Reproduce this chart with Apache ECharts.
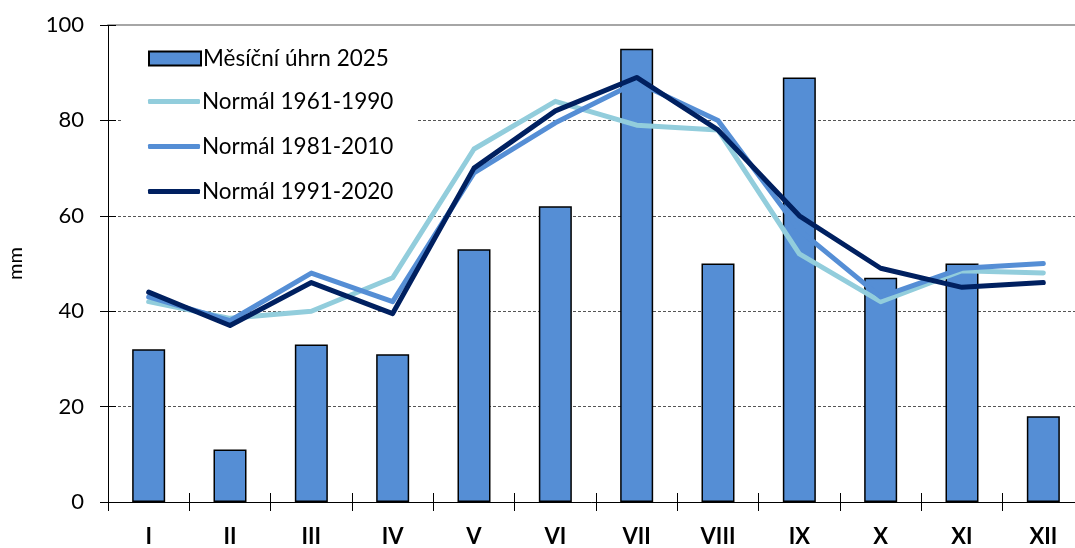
<!DOCTYPE html>
<html>
<head>
<meta charset="utf-8">
<script src="https://cdn.jsdelivr.net/npm/echarts@6/dist/echarts.min.js"></script>
<style>html,body{margin:0;padding:0;background:#fff}#c{width:1075px;height:548px}</style>
</head>
<body>
<div id="c"></div>
<script>
const categories = ['I','II','III','IV','V','VI','VII','VIII','IX','X','XI','XII'];
const monthly2025 = [32, 11, 33, 31, 53, 62, 95, 50, 89, 47, 50, 18];
const normal6190 = [42, 38.5, 40, 47, 74, 84, 79, 78, 52, 42, 48.5, 48];
const normal8110 = [43, 38, 48, 42, 69, 79.5, 88, 80, 57, 43, 49, 50];
const normal9120 = [44, 37, 46, 39.5, 70, 82, 89, 78, 60, 49, 45, 46];
const yTicks = [0, 20, 40, 60, 80, 100];
const names = ['Měsíční úhrn 2025','Normál 1961-1990','Normál 1981-2010','Normál 1991-2020'];

const FONT = 'Lato';
const legendText = { fontFamily: FONT, fontSize: 22.5, color: '#000', lineHeight: 20, padding: [0,0,0,-3] };
const chart = echarts.init(document.getElementById('c'));
chart.setOption({
  animation: false,
  backgroundColor: '#fff',
  textStyle: { fontFamily: FONT },
  grid: { left: 108, width: 976, top: 25, height: 477, containLabel: false, outerBoundsMode: 'none' },
  legend: [
    {
      orient: 'vertical',
      left: 122, top: 28,
      padding: [19, 28, 138, 26],
      backgroundColor: '#fff',
      itemWidth: 52, itemHeight: 14,
      icon: 'rect',
      itemStyle: { borderColor: '#000', borderWidth: 2 },
      textStyle: legendText,
      data: [names[0]],
      z: 10
    },
    {
      orient: 'vertical',
      left: 148, top: 90,
      padding: 0,
      itemGap: 22,
      itemWidth: 52, itemHeight: 5,
      icon: 'roundRect',
      textStyle: legendText,
      data: names.slice(1),
      z: 11
    }
  ],
  xAxis: [
    { type: 'category', data: categories, position: 'bottom',
      axisLine: { show: true, lineStyle: { color: '#000', width: 1 } },
      axisTick: { show: true, inside: false, length: 9, lineStyle: { color: '#000' } },
      axisLabel: { fontFamily: FONT, fontSize: 22, fontWeight: 'bold', color: '#000', margin: 24 },
      splitLine: { show: false } },
    { type: 'category', data: categories, position: 'bottom',
      axisLine: { show: false },
      axisTick: { show: true, inside: true, length: 9, lineStyle: { color: '#000' } },
      axisLabel: { show: false }, splitLine: { show: false } },
    { type: 'category', data: categories, position: 'top',
      axisLine: { show: true, lineStyle: { color: '#A6A6A6', width: 2 } },
      axisTick: { show: false }, axisLabel: { show: false }, splitLine: { show: false } }
  ],
  yAxis: [
    { type: 'value', min: yTicks[0], max: yTicks[yTicks.length-1], interval: 20,
      name: 'mm', nameLocation: 'middle', nameGap: 82, nameRotate: 90,
      nameTextStyle: { fontFamily: FONT, fontSize: 20, color: '#000' },
      axisLine: { show: true, lineStyle: { color: '#000', width: 1 } },
      axisTick: { show: true, inside: false, length: 8, lineStyle: { color: '#000' } },
      axisLabel: { fontFamily: FONT, fontSize: 22, color: '#000', margin: 24 },
      splitLine: { show: true, showMinLine: false, showMaxLine: false, lineStyle: { color: '#555', type: [3, 2], width: 1 } } },
    { type: 'value', min: 0, max: 100, interval: 20, position: 'left',
      axisLine: { show: false },
      axisTick: { show: true, inside: true, length: 8, lineStyle: { color: '#000' } },
      axisLabel: { show: false }, splitLine: { show: false } }
  ],
  series: [
    { name: names[0], type: 'bar', data: monthly2025, barWidth: 33,
      itemStyle: { color: '#558ED5', borderColor: '#000', borderWidth: 1.5 }, z: 1 },
    { name: names[1], type: 'line', data: normal6190, symbol: 'none',
      lineStyle: { color: '#92CDDC', width: 5, cap: 'round', join: 'round' }, itemStyle: { color: '#92CDDC' }, z: 3 },
    { name: names[2], type: 'line', data: normal8110, symbol: 'none',
      lineStyle: { color: '#558ED5', width: 5, cap: 'round', join: 'round' }, itemStyle: { color: '#558ED5' }, z: 4 },
    { name: names[3], type: 'line', data: normal9120, symbol: 'none',
      lineStyle: { color: '#002060', width: 5, cap: 'round', join: 'round' }, itemStyle: { color: '#002060' }, z: 5 }
  ]
});
</script>
</body>
</html>
